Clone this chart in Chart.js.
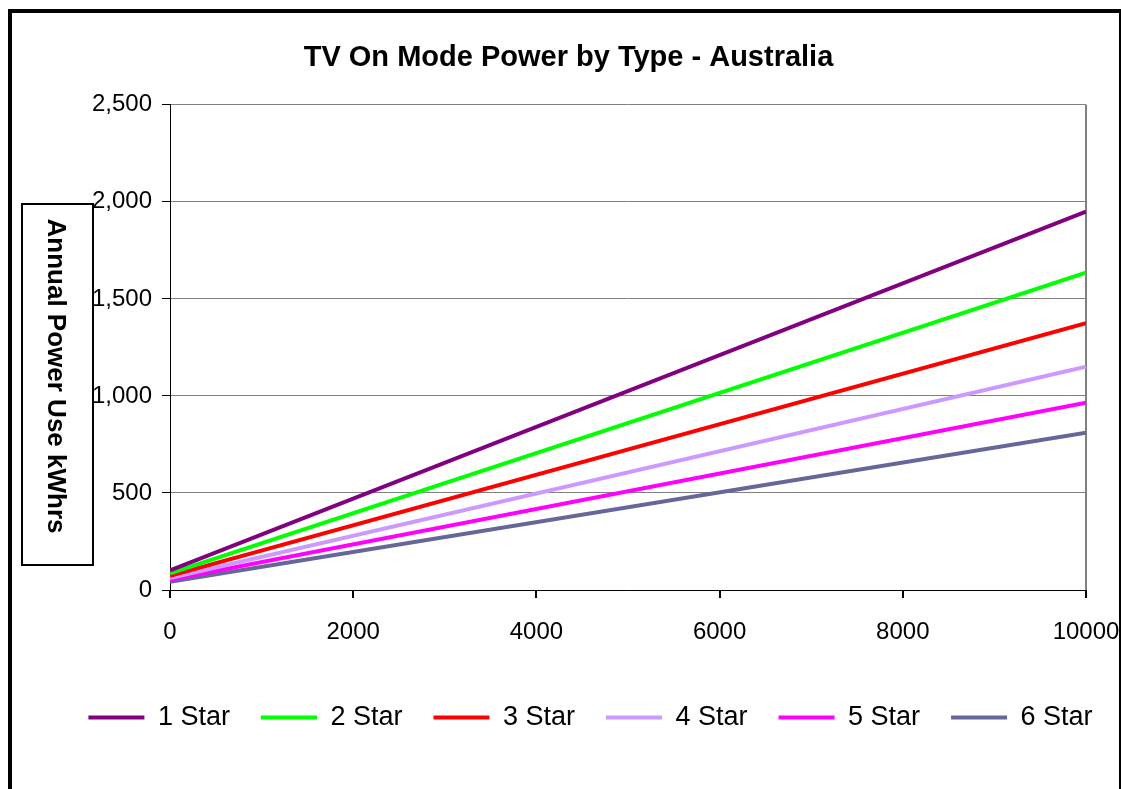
<!DOCTYPE html>
<html>
<head>
<meta charset="utf-8">
<script src="https://cdn.jsdelivr.net/npm/chart.js@4.4.1/dist/chart.umd.min.js"></script>
<style>
  html, body { margin: 0; padding: 0; background: #fff; }
  #wrap { width: 1121px; height: 789px; }
</style>
</head>
<body>
<div id="wrap"><canvas id="chart"></canvas></div>
<script>
// screen size (x) and annual power use in kWh for each star rating
var screenSize = [0, 10000];
var star1 = [101, 1950];
var star2 = [86, 1635];
var star3 = [73, 1375];
var star4 = [62, 1150];
var star5 = [52, 965];
var star6 = [43, 810];

var seriesNames = ['1 Star', '2 Star', '3 Star', '4 Star', '5 Star', '6 Star'];
var seriesColors = ['#800080', '#00ff00', '#ff0000', '#cc99ff', '#ff00ff', '#666699'];
var yTicks = [0, 500, 1000, 1500, 2000, 2500];
var xTicks = [0, 2000, 4000, 6000, 8000, 10000];

var FONT = "'Liberation Sans', Arial, sans-serif";

function toPoints(vals) {
    return vals.map(function (v, i) { return { x: screenSize[i], y: v }; });
}

var allSeries = [star1, star2, star3, star4, star5, star6];
var datasets = [];
for (var i = 0; i < allSeries.length; i++) {
    datasets.push({
        label: seriesNames[i],
        data: toPoints(allSeries[i]),
        borderColor: seriesColors[i],
        backgroundColor: seriesColors[i],
        borderWidth: 4,
        pointRadius: 0,
        tension: 0
    });
}

// white background, outer frame and the boxed y axis title
var framePlugin = {
    id: 'frame',
    afterLayout: function (chart) {
        // the original title and legend sit a little off centre
        chart.titleBlock.left += 8;
        chart.titleBlock.right += 8;
        chart.legend.left += 30;
        chart.legend.right += 30;
    },
    beforeDraw: function (chart) {
        var ctx = chart.ctx;
        ctx.save();
        ctx.fillStyle = '#fff';
        ctx.fillRect(0, 0, chart.width, chart.height);
        ctx.restore();
    },
    afterDraw: function (chart) {
        var ctx = chart.ctx;
        ctx.save();
        ctx.strokeStyle = '#000';
        ctx.lineWidth = 4;
        ctx.strokeRect(10, 11, 1111, 800);

        ctx.lineWidth = 2;
        ctx.fillStyle = '#fff';
        ctx.fillRect(22, 204, 71, 361);
        ctx.strokeRect(22, 204, 71, 361);

        ctx.translate(55, 376);
        ctx.rotate(Math.PI / 2);
        ctx.fillStyle = '#000';
        ctx.font = 'bold 26px ' + FONT;
        ctx.textAlign = 'center';
        ctx.textBaseline = 'middle';
        ctx.fillText('Annual Power Use kWhrs', 0, 0);
        ctx.restore();
    }
};

var ctx = document.getElementById('chart');

var lineGraph = new Chart(ctx, {
    type: 'line',
    data: { datasets: datasets },
    plugins: [framePlugin],
    options: {
        responsive: true,
        maintainAspectRatio: false,
        animation: false,
        layout: { padding: { left: 0, right: 0, top: 0, bottom: 48 } },
        plugins: {
            title: {
                display: true,
                text: 'TV On Mode Power by Type - Australia',
                color: '#000',
                font: { family: FONT, size: 29, weight: 'bold' },
                padding: { top: 41, bottom: 29 }
            },
            legend: {
                position: 'bottom',
                labels: {
                    color: '#000',
                    font: { family: FONT, size: 27 },
                    boxWidth: 56,
                    boxHeight: 0,
                    padding: 31
                }
            },
            tooltip: { enabled: false }
        },
        scales: {
            x: {
                type: 'linear',
                min: 0,
                max: 10000,
                afterBuildTicks: function (scale) {
                    scale.ticks = xTicks.map(function (v) { return { value: v }; });
                },
                afterFit: function (scale) {
                    scale.height = 83;
                    scale.paddingLeft = 0;
                    scale.paddingRight = 35;
                },
                ticks: {
                    color: '#000',
                    font: { family: FONT, size: 24 },
                    padding: 20,
                    maxRotation: 0,
                    autoSkip: false,
                    callback: function (v) { return String(v); }
                },
                grid: {
                    color: function (c) {
                        return c.tick && c.tick.value === 10000 ? '#808080' : 'rgba(0,0,0,0)';
                    },
                    lineWidth: 2,
                    tickColor: '#000',
                    tickLength: 8
                },
                border: { color: '#000', width: 1 }
            },
            y: {
                min: 0,
                max: 2500,
                afterBuildTicks: function (scale) {
                    scale.ticks = yTicks.map(function (v) { return { value: v }; });
                },
                afterFit: function (scale) { scale.width = 170; },
                ticks: {
                    color: '#000',
                    font: { family: FONT, size: 24 },
                    padding: 10,
                    callback: function (v) { return v.toLocaleString('en-US'); }
                },
                grid: {
                    color: '#808080',
                    tickColor: '#000',
                    tickLength: 8
                },
                border: { color: '#000', width: 1 }
            }
        }
    }
});
</script>
</body>
</html>
